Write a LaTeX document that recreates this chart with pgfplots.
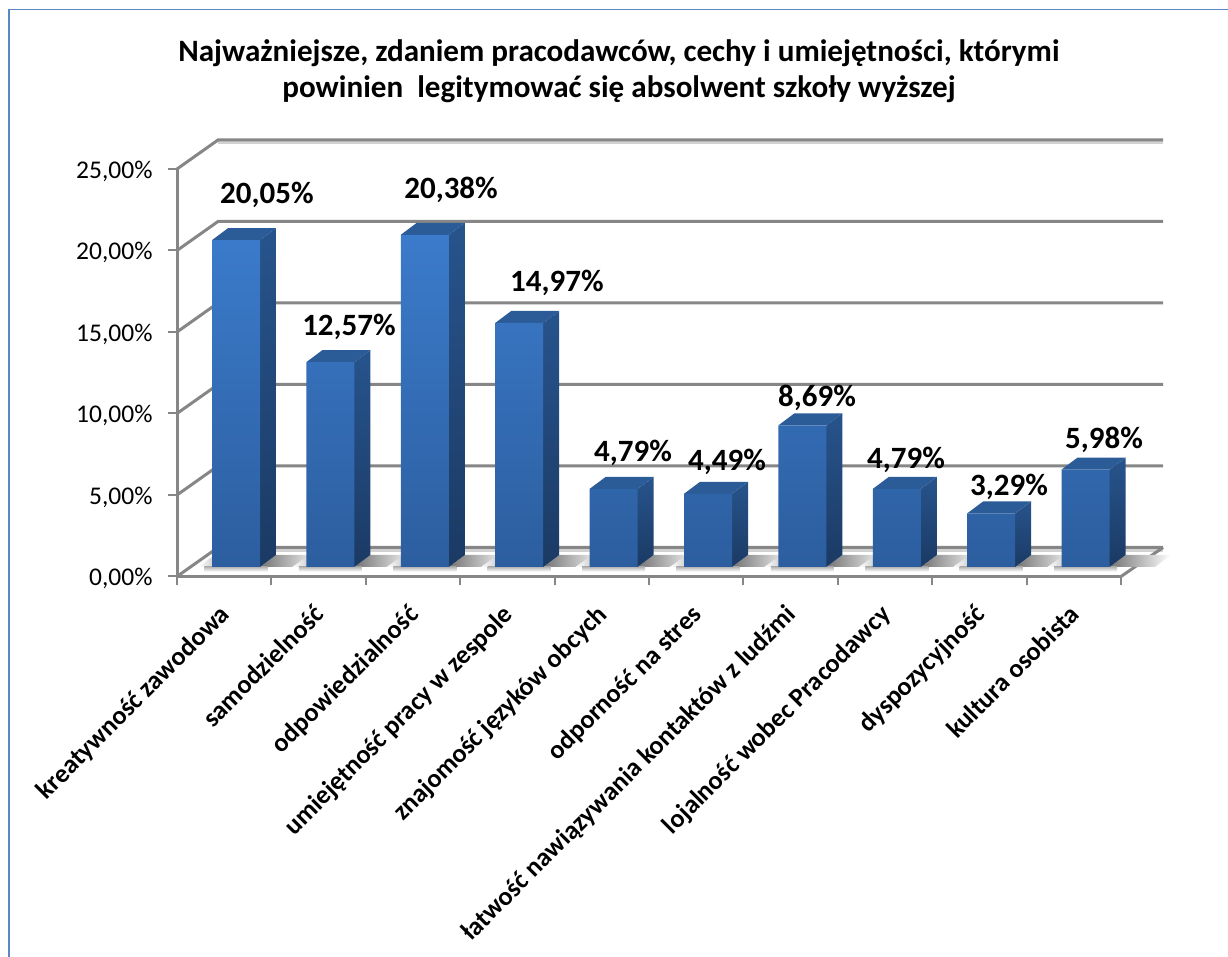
\documentclass[border=0pt]{standalone}
\usepackage{fontspec}
\setmainfont{Carlito}
\usepackage{pgfplots}
\usepackage{pgfplotstable}
\pgfplotsset{compat=1.18}
\definecolor{gridc}{HTML}{868686}
\definecolor{framec}{HTML}{5B87C5}
\definecolor{fronttop}{HTML}{3B7BCB}
\definecolor{frontbot}{HTML}{2C5E9F}
\definecolor{sidetop}{HTML}{27548C}
\definecolor{sidebot}{HTML}{1B3A64}
\definecolor{topface}{HTML}{2C5C98}
\pgfplotstableread{
x v
0.5 20.05
1.5 12.57
2.5 20.38
3.5 14.97
4.5 4.79
5.5 4.49
6.5 8.69
7.5 4.79
8.5 3.29
9.5 5.98
}\bardata
% one level of the back wall: left-wall diagonal and back line
\newcommand\wall[1]{%
  \pgfmathsetmacro\Y{#1+1.779}%
  \edef\tmp{\noexpand\addplot[gridc,line width=3pt] coordinates {(0,#1) (0.4343,\Y) (10.445,\Y)};}\tmp}
% floor shadow of a bar
\newcommand\shadow[1]{%
  \pgfmathsetmacro\L{#1-0.1292}\pgfmathsetmacro\R{#1+0.3792}%
  \pgfmathsetmacro\Rd{\R+0.1695}\pgfmathsetmacro\Ld{\L+0.1695}%
  \pgfmathsetmacro\Rs{\R+0.48}\pgfmathsetmacro\Rds{\Rd+0.48}%
  \pgfmathsetmacro\Ls{\L-0.15}\pgfmathsetmacro\Lds{\Ld-0.14}%
  \pgfmathsetmacro\Rb{\R+0.08}\pgfmathsetmacro\Lb{\L-0.08}%
  \edef\tmp{%
  \noexpand\addplot[draw=none,shade,left color=black!55,right color=white] coordinates {(\R,0.583) (\Rd,1.319) (\Rds,1.319) (\Rs,0.583)} --cycle;
  \noexpand\addplot[draw=none,shade,left color=white,right color=gray!70] coordinates {(\Ls,0.583) (\L,0.583) (\Ld,1.319) (\Lds,1.319)} --cycle;
  \noexpand\addplot[draw=none,shade,top color=gray!60,bottom color=white] coordinates {(\Lb,0.6) (\Rb,0.6) (\Rb,0.3) (\Lb,0.3)} --cycle;
  }\tmp}
% side and top faces of a bar
\newcommand\faces[2]{%
  \pgfmathsetmacro\L{#1-0.1292}\pgfmathsetmacro\R{#1+0.3792}%
  \pgfmathsetmacro\Rd{\R+0.1695}\pgfmathsetmacro\Ld{\L+0.1695}%
  \pgfmathsetmacro\T{#2+0.583}\pgfmathsetmacro\Td{\T+0.736}%
  \edef\tmp{%
  \noexpand\addplot[draw=none,shade,top color=sidetop,bottom color=sidebot] coordinates {(\R,0.583) (\Rd,1.319) (\Rd,\Td) (\R,\T)} --cycle;
  \noexpand\addplot[draw=none,fill=topface] coordinates {(\L,\T) (\R,\T) (\Rd,\Td) (\Ld,\Td)} --cycle;
  }\tmp}
\newcommand\lab[3]{\node[font=\fontsize{31}{36}\selectfont\bfseries,yshift=-2pt] at (axis cs:#1,#2) {#3};}
\begin{document}
\begin{tikzpicture}
\useasboundingbox (0pt,0pt) rectangle (1228pt,957pt);
\draw[framec,line width=1.6pt] (9pt,0pt) -- (9pt,947.5pt) -- (1228pt,947.5pt);
\node[align=center,font=\fontsize{31.1}{36}\selectfont\bfseries] at (619pt,886pt) {Najważniejsze, zdaniem pracodawców, cechy i umiejętności, którymi\\powinien\ \ legitymować się absolwent szkoły wyższej};
\begin{axis}[
  at={(177pt,380.5pt)},anchor=south west,
  scale only axis,width=944pt,height=407.5pt,
  xmin=0,xmax=10,ymin=0,ymax=25,clip=false,
  axis lines=left,
  axis line style={-,gridc,line width=3pt},
  tick align=outside,major tick length=9pt,
  tick style={gridc,line width=2pt},
  ytick={0,5,10,15,20,25},
  yticklabels={{0,00\%},{5,00\%},{10,00\%},{15,00\%},{20,00\%},{25,00\%}},
  xtick={0,1,...,10},
  xticklabels={kreatywność zawodowa,samodzielność,odpowiedzialność,umiejętność pracy w zespole,znajomość języków obcych,odporność na stres,łatwość nawiązywania kontaktów z ludźmi,lojalność wobec Pracodawcy,dyspozycyjność,kultura osobista,{}},
  y tick label style={font=\fontsize{25.5}{30}\selectfont,xshift=-12pt,yshift=-2pt},
  x tick label style={font=\fontsize{26.2}{31}\selectfont\bfseries,rotate=45,anchor=north east,xshift=20pt,yshift=-38pt},
]
% light edges under the back lines
\addplot[gray!35,line width=3pt] coordinates {(0.4343,1.6) (10.445,1.6)};
\addplot[gray!35,line width=3pt] coordinates {(0.4343,26.6) (10.445,26.6)};
\wall{0}\wall{5}\wall{10}\wall{15}\wall{20}\wall{25}
\addplot[gridc,line width=3pt] coordinates {(10,0) (10.445,1.779)};
\shadow{0.5}\shadow{1.5}\shadow{2.5}\shadow{3.5}\shadow{4.5}\shadow{5.5}\shadow{6.5}\shadow{7.5}\shadow{8.5}\shadow{9.5}
\faces{0.5}{20.05}\faces{1.5}{12.57}\faces{2.5}{20.38}\faces{3.5}{14.97}\faces{4.5}{4.79}
\faces{5.5}{4.49}\faces{6.5}{8.69}\faces{7.5}{4.79}\faces{8.5}{3.29}\faces{9.5}{5.98}
\addplot[ybar,bar width=48pt,bar shift=0pt,draw=none,shade,top color=fronttop,bottom color=frontbot,xshift=11.8pt,yshift=9.5pt] table[x=x,y=v] {\bardata};
\lab{0.953}{23.53}{20,05\%}
\lab{1.822}{15.43}{12,57\%}
\lab{2.903}{23.83}{20,38\%}
\lab{4.025}{18.13}{14,97\%}
\lab{4.831}{7.70}{4,79\%}
\lab{5.826}{7.15}{4,49\%}
\lab{6.780}{11.07}{8,69\%}
\lab{7.722}{7.27}{4,79\%}
\lab{8.814}{5.61}{3,29\%}
\lab{9.820}{8.50}{5,98\%}
\end{axis}
\end{tikzpicture}
\end{document}
